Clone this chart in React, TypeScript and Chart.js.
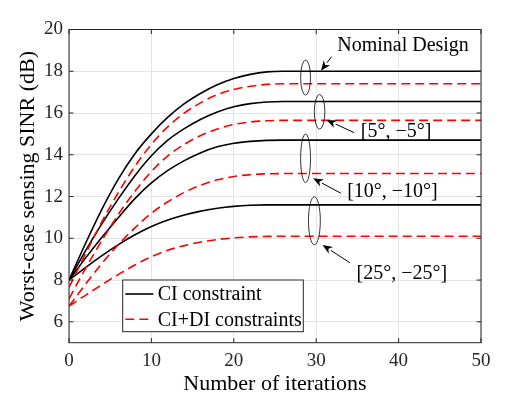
import React, { useEffect, useRef } from 'react';
import { Chart, registerables } from 'chart.js';

Chart.register(...registerables);

// ---- data ----
const iterations = [0, 2, 4, 6, 8, 10, 12, 14, 16, 18, 20, 22, 24, 26, 50];
const ciNominal = [8, 9.75, 11.4, 12.85, 14.05, 15.0, 15.8, 16.45, 16.95, 17.35, 17.65, 17.85, 17.97, 18, 18];
const cidiNominal = [7.65, 9.25, 10.8, 12.2, 13.45, 14.5, 15.35, 16.0, 16.5, 16.88, 17.13, 17.28, 17.37, 17.4, 17.4];
const ci5 = [8, 9.4, 10.7, 11.9, 13.0, 13.95, 14.7, 15.25, 15.7, 16.05, 16.3, 16.45, 16.53, 16.55, 16.55];
const cidi5 = [7.1, 8.55, 9.9, 11.15, 12.25, 13.2, 13.95, 14.5, 14.92, 15.23, 15.45, 15.57, 15.63, 15.65, 15.65];
const ci10 = [8, 9.05, 10.05, 11.0, 11.9, 12.65, 13.25, 13.72, 14.1, 14.38, 14.55, 14.64, 14.69, 14.7, 14.7];
const cidi10 = [6.75, 7.8, 8.8, 9.7, 10.5, 11.2, 11.75, 12.2, 12.55, 12.8, 12.96, 13.05, 13.09, 13.1, 13.1];
const ci25 = [8, 8.6, 9.17, 9.7, 10.17, 10.57, 10.88, 11.12, 11.3, 11.44, 11.53, 11.58, 11.6, 11.6, 11.6];
const cidi25 = [6.75, 7.27, 7.78, 8.27, 8.72, 9.12, 9.43, 9.65, 9.82, 9.94, 10.02, 10.07, 10.09, 10.1, 10.1];

const xTicks = [0, 10, 20, 30, 40, 50];
const yTicks = [6, 8, 10, 12, 14, 16, 18, 20];
const legendLabels = ['CI constraint', 'CI+DI constraints'];
const xTitle = 'Number of iterations';
const yTitle = 'Worst-case sensing SINR (dB)';

// annotation texts and anchors (data coordinates)
const groupTexts = ['Nominal Design', '[5°, −5°]', '[10°, −10°]', '[25°, −25°]'];
const textX = [32.55, 35.42, 33.76, 34.9];
const textY = [19.22, 15.1, 12.23, 8.29];
const ellipseX = [28.71, 30.41, 28.71, 29.78];
const ellipseY = [17.7, 16.06, 13.83, 10.84];
const ellipseRX = [0.6, 0.64, 0.6, 0.72];
const ellipseRY = [0.84, 0.83, 1.16, 1.15];
const arrowFromX = [31.87, 34.61, 32.99, 34.09];
const arrowFromY = [18.7, 15.06, 12.16, 8.83];
const arrowToX = [30.57, 31.26, 29.63, 30.77];
const arrowToY = [18.03, 15.67, 12.87, 9.68];

const FONT = "'Liberation Serif', 'Times New Roman', serif";
const AXIS = '#262626';

const toPoints = (vals: number[]) => vals.map((v, i) => ({ x: iterations[i], y: v }));

const overlayPlugin = {
  id: 'overlay',
  afterDatasetsDraw(chart: any) {
    const { ctx, chartArea: ca, scales } = chart;
    const xs = scales.x;
    const ys = scales.y;
    ctx.save();
    // frame
    ctx.strokeStyle = AXIS;
    ctx.lineWidth = 1;
    ctx.strokeRect(ca.left, ca.top, ca.right - ca.left, ca.bottom - ca.top);
    // inward ticks
    const tl = 4.5;
    ctx.beginPath();
    xTicks.forEach((t) => {
      const px = xs.getPixelForValue(t);
      ctx.moveTo(px, ca.bottom); ctx.lineTo(px, ca.bottom - tl);
      ctx.moveTo(px, ca.top); ctx.lineTo(px, ca.top + tl);
    });
    yTicks.forEach((t) => {
      const py = ys.getPixelForValue(t);
      ctx.moveTo(ca.left, py); ctx.lineTo(ca.left + tl, py);
      ctx.moveTo(ca.right, py); ctx.lineTo(ca.right - tl, py);
    });
    ctx.stroke();

    // ellipses
    ctx.strokeStyle = '#000';
    ctx.lineWidth = 0.8;
    ellipseX.forEach((ex, i) => {
      const cx = xs.getPixelForValue(ex);
      const cy = ys.getPixelForValue(ellipseY[i]);
      const rx = Math.abs(xs.getPixelForValue(ex + ellipseRX[i]) - cx);
      const ry = Math.abs(ys.getPixelForValue(ellipseY[i] + ellipseRY[i]) - cy);
      ctx.beginPath();
      ctx.ellipse(cx, cy, rx, ry, 0, 0, Math.PI * 2);
      ctx.stroke();
    });

    // arrows
    ctx.lineWidth = 1;
    ctx.fillStyle = '#000';
    arrowFromX.forEach((fx, i) => {
      const x1 = xs.getPixelForValue(fx);
      const y1 = ys.getPixelForValue(arrowFromY[i]);
      const x2 = xs.getPixelForValue(arrowToX[i]);
      const y2 = ys.getPixelForValue(arrowToY[i]);
      const ang = Math.atan2(y2 - y1, x2 - x1);
      const hl = 10, hw = 4;
      const bx = x2 - hl * Math.cos(ang);
      const by = y2 - hl * Math.sin(ang);
      ctx.beginPath();
      ctx.moveTo(x1, y1);
      ctx.lineTo(bx, by);
      ctx.stroke();
      ctx.beginPath();
      ctx.moveTo(x2, y2);
      ctx.lineTo(bx + hw * Math.sin(ang), by - hw * Math.cos(ang));
      ctx.lineTo(x2 - hl * 0.7 * Math.cos(ang), y2 - hl * 0.7 * Math.sin(ang));
      ctx.lineTo(bx - hw * Math.sin(ang), by + hw * Math.cos(ang));
      ctx.closePath();
      ctx.fill();
    });

    // texts
    ctx.font = `20px ${FONT}`;
    ctx.textBaseline = 'middle';
    ctx.textAlign = 'left';
    groupTexts.forEach((t, i) => {
      ctx.fillText(t, xs.getPixelForValue(textX[i]), ys.getPixelForValue(textY[i]));
    });

    // legend
    const lx = ca.left + 53.7;
    const lw = 180.6;
    const lh = 51.7;
    const ly = ca.bottom - 11 - lh;
    ctx.fillStyle = '#fff';
    ctx.fillRect(lx, ly, lw, lh);
    ctx.strokeStyle = AXIS;
    ctx.lineWidth = 1;
    ctx.strokeRect(lx, ly, lw, lh);
    const dsets = chart.data.datasets;
    [0, 1].forEach((k) => {
      const ds = dsets[k];
      const yy = ly + 14 + k * 25.3;
      ctx.strokeStyle = ds.borderColor;
      ctx.lineWidth = ds.borderWidth;
      ctx.setLineDash(ds.borderDash || []);
      ctx.beginPath();
      ctx.moveTo(lx + 2.6, yy);
      ctx.lineTo(lx + 30.6, yy);
      ctx.stroke();
      ctx.setLineDash([]);
      ctx.fillStyle = '#000';
      ctx.font = `20px ${FONT}`;
      ctx.textBaseline = 'middle';
      ctx.fillText(legendLabels[k], lx + 35, yy + 1);
    });
    ctx.restore();
  },
};

export default function App() {
  const ref = useRef<HTMLCanvasElement | null>(null);
  useEffect(() => {
    document.body.style.margin = '0';
    document.body.style.overflow = 'hidden';
    const canvas = ref.current;
    if (!canvas) return;
    const black = { borderColor: '#000000', borderWidth: 1.6, borderDash: [] as number[] };
    const red = { borderColor: '#ff0000', borderWidth: 1.6, borderDash: [9, 5] };
    const series = [
      [ciNominal, black, legendLabels[0]],
      [cidiNominal, red, legendLabels[1]],
      [ci5, black, ''],
      [cidi5, red, ''],
      [ci10, black, ''],
      [cidi10, red, ''],
      [ci25, black, ''],
      [cidi25, red, ''],
    ] as any[];
    const chart = new Chart(canvas, {
      type: 'line',
      data: {
        datasets: series.map(([vals, style, label]) => ({
          label,
          data: toPoints(vals),
          ...style,
          pointRadius: 0,
          fill: false,
          cubicInterpolationMode: 'monotone',
        })),
      },
      options: {
        animation: false,
        responsive: false,
        devicePixelRatio: 1,
        layout: { padding: { top: 29.5, right: 50, left: 0, bottom: 0 } },
        plugins: { legend: { display: false }, tooltip: { enabled: false } },
        scales: {
          x: {
            type: 'linear',
            min: 0,
            max: 50,
            afterBuildTicks: (s: any) => { s.ticks = xTicks.map((v) => ({ value: v })); },
            afterFit: (s: any) => { s.height = 56.3; },
            ticks: { color: AXIS, font: { family: FONT, size: 19 }, padding: 7, maxRotation: 0 },
            grid: { color: '#e3e3e3', lineWidth: 1, drawTicks: false },
            border: { display: false },
            title: { display: true, text: xTitle, color: '#000', font: { family: FONT, size: 22 }, padding: { top: 0, bottom: 2 } },
          },
          y: {
            type: 'linear',
            min: 5,
            max: 20,
            afterBuildTicks: (s: any) => { s.ticks = yTicks.map((v) => ({ value: v })); },
            afterFit: (s: any) => { s.width = 69; },
            ticks: { color: AXIS, font: { family: FONT, size: 19 }, padding: 6 },
            grid: { color: '#e3e3e3', lineWidth: 1, drawTicks: false },
            border: { display: false },
            title: { display: true, text: yTitle, color: '#000', font: { family: FONT, size: 22 }, padding: { top: 15, bottom: 0 } },
          },
        },
      },
      plugins: [overlayPlugin],
    } as any);
    return () => chart.destroy();
  }, []);
  return (
    <div style={{ width: 531, height: 399, background: '#fff' }}>
      <canvas ref={ref} width={531} height={399} style={{ display: 'block' }} />
    </div>
  );
}
